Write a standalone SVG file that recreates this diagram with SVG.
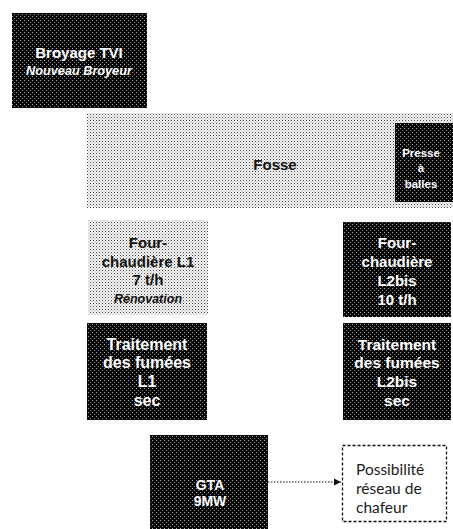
<svg xmlns="http://www.w3.org/2000/svg" width="453" height="529" viewBox="0 0 453 529">
<defs>
<pattern id="dk" width="4" height="4" patternUnits="userSpaceOnUse">
<rect width="4" height="4" fill="#050505"/>
<rect x="0" y="0" width="1" height="1" fill="#b0b0b0"/>
<rect x="2" y="2" width="1" height="1" fill="#8a8a8a"/>
</pattern>
<pattern id="lt" width="3" height="3" patternUnits="userSpaceOnUse">
<rect width="3" height="3" fill="#f6f6f6"/>
<rect x="0" y="0" width="1" height="1" fill="#444"/>
<rect x="1.5" y="1.5" width="1" height="1" fill="#999"/>
</pattern>
<marker id="ah" markerWidth="8" markerHeight="8" refX="7" refY="4" orient="auto" markerUnits="userSpaceOnUse">
<path d="M0,0.5 L7,4 L0,7.5 Z" fill="#111"/>
</marker>
<style>
.dk{fill:url(#dk);}
.lt{fill:url(#lt);}
.t{font-family:"Liberation Sans",Arial,sans-serif;font-weight:bold;text-anchor:middle;}
.w{fill:#fff;}
.b{fill:#111;}
.i{font-style:italic;}
.f15{font-size:15px;}
.f16{font-size:16px;}
.p{font-family:Lato,"Open Sans",sans-serif;font-size:15.5px;fill:#1a1a1a;}
</style>
</defs>
<g id="broyage">
<rect class="dk" x="12" y="13" width="135" height="95"/>
<text class="t w f15" x="79" y="58">Broyage TVI</text>
<text class="t w i" x="79" y="75" font-size="12.7">Nouveau Broyeur</text>
</g>
<g id="fosse">
<rect class="lt" x="87" y="113" width="366" height="95"/>
<text class="t b f15" x="275" y="170">Fosse</text>
</g>
<g id="presse">
<rect class="dk" x="395" y="123" width="58" height="79"/>
<text class="t w" x="421" y="157" font-size="11.5">Presse</text>
<text class="t w" x="421" y="172" font-size="11.5">à</text>
<text class="t w" x="421" y="188" font-size="11.5">balles</text>
</g>
<g id="four-l1">
<rect class="lt" x="88" y="220" width="120" height="95"/>
<text class="t b f15" x="148" y="248">Four-</text>
<text class="t b f15" x="148" y="267">chaudière L1</text>
<text class="t b f15" x="148" y="285">7 t/h</text>
<text class="t b i" x="148" y="303" font-size="12.5">Rénovation</text>
</g>
<g id="four-l2bis">
<rect class="dk" x="343" y="222" width="108" height="95"/>
<text class="t w f15" x="397" y="248">Four-</text>
<text class="t w f15" x="397" y="267">chaudière</text>
<text class="t w f15" x="397" y="286">L2bis</text>
<text class="t w f15" x="397" y="305">10 t/h</text>
</g>
<g id="traitement-l1">
<rect class="dk" x="87" y="323" width="120" height="97"/>
<text class="t w f16" x="147" y="350">Traitement</text>
<text class="t w f16" x="147" y="368">des fumées</text>
<text class="t w f16" x="147" y="387">L1</text>
<text class="t w f16" x="147" y="406">sec</text>
</g>
<g id="traitement-l2bis">
<rect class="dk" x="343" y="323" width="108" height="97"/>
<text class="t w" x="397" y="350" font-size="15.5">Traitement</text>
<text class="t w" x="397" y="368" font-size="15.5">des fumées</text>
<text class="t w" x="397" y="387" font-size="15.5">L2bis</text>
<text class="t w" x="397" y="406" font-size="15.5">sec</text>
</g>
<g id="gta">
<rect class="dk" x="150" y="435" width="118" height="94"/>
<text class="t w" x="210" y="490" font-size="14">GTA</text>
<text class="t w" x="210" y="506" font-size="14">9MW</text>
</g>
<g id="reseau">
<rect x="342.5" y="445.5" width="104" height="76" fill="#fff" stroke="#111" stroke-width="1.3" stroke-dasharray="3,2"/>
<text class="p" x="356" y="475">Possibilité</text>
<text class="p" x="356" y="494">réseau de</text>
<text class="p" x="356" y="513">chafeur</text>
</g>
<g id="connectors">
<line x1="268" y1="482" x2="341" y2="482" stroke="#111" stroke-width="1.2" stroke-dasharray="1.5,1.5" marker-end="url(#ah)"/>
</g>
</svg>
